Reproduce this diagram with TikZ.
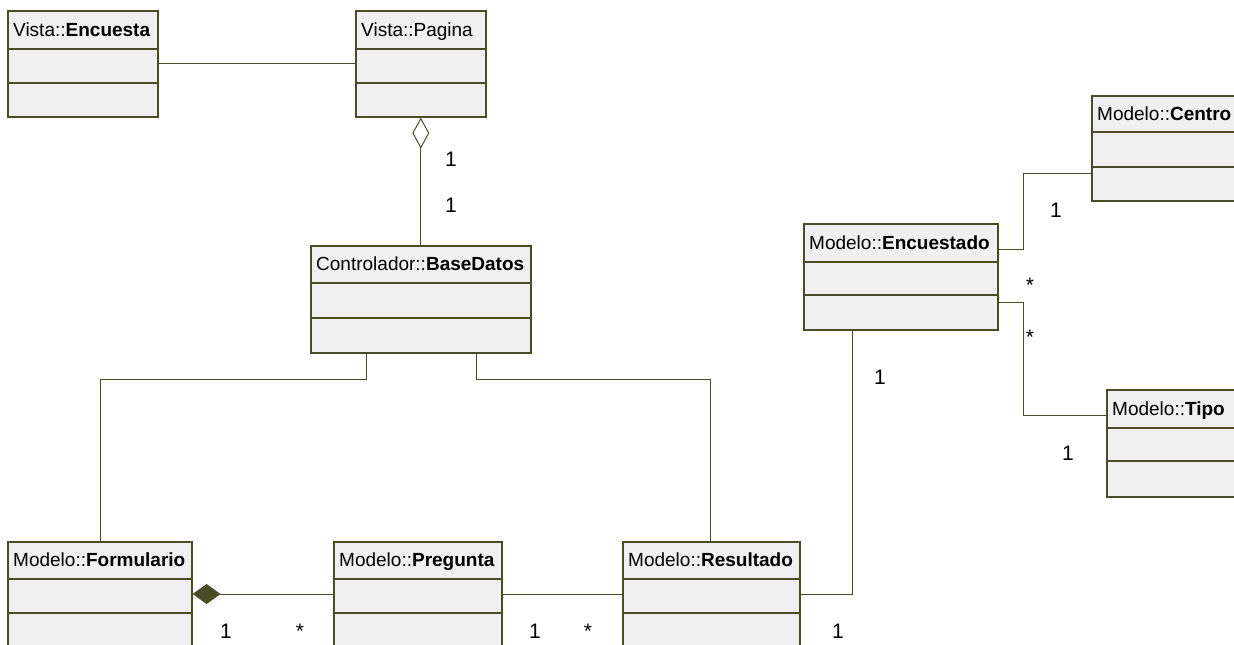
\documentclass[tikz,border=0pt]{standalone}
\usepackage{fontspec}
\setmainfont{Liberation Sans}
\usetikzlibrary{arrows.meta}

\definecolor{umlline}{RGB}{74,76,38}
\definecolor{umlfill}{RGB}{240,240,240}

\tikzset{
  classbox/.style={draw=umlline, fill=umlfill, line width=1.6pt, inner sep=0pt, rectangle},
  compart/.style={draw=umlline, line width=1.6pt},
  classtitle/.style={inner sep=0pt, anchor=base west, font=\fontsize{19}{21}\selectfont},
  assoc/.style={draw=umlline, line width=1pt},
  mult/.style={inner sep=0pt, anchor=base, font=\fontsize{21}{23}\selectfont},
}

% UML class: name, left, top, right, bottom, header height, middle height, title
\newcommand\umlclass[8]{%
  \node[classbox, minimum width={#4-#2}, minimum height={#5-#3}, anchor=north west] (#1) at (#2,#3) {};
  \draw[compart] ([yshift=-#6pt]#1.north west) -- ([yshift=-#6pt]#1.north east);
  \draw[compart] ([yshift=-#6pt-#7pt]#1.north west) -- ([yshift=-#6pt-#7pt]#1.north east);
  \node[classtitle] (#1-title) at ([xshift=6pt, yshift=-#6pt/2-6.5pt]#1.north west) {#8};
}

\begin{document}
\begin{tikzpicture}[x=1pt, y=-1pt]
  \useasboundingbox (0,0) rectangle (1234,645);
  \clip (0,0) rectangle (1234,645);

  % classes
  \umlclass{vencuesta}{7}{10}{157}{116}{39}{34}{Vista::\textbf{Encuesta}}
  \umlclass{pagina}{355}{10}{485}{116}{39}{34}{Vista::Pagina}
  \umlclass{basedatos}{310}{245}{530}{352}{38}{35}{Controlador::\textbf{BaseDatos}}
  \umlclass{formulario}{7}{541}{191}{660}{38}{34}{Modelo::\textbf{Formulario}}
  \umlclass{pregunta}{333}{541}{501}{660}{38}{34}{Modelo::\textbf{Pregunta}}
  \umlclass{resultado}{622}{541}{799}{660}{38}{34}{Modelo::\textbf{Resultado}}
  \umlclass{encuestado}{803}{223}{997}{329}{39}{33}{Modelo::\textbf{Encuestado}}
  \umlclass{centro}{1091}{95}{1250}{200}{37}{35}{Modelo::\textbf{Centro}}
  \umlclass{tipo}{1106}{389}{1250}{496}{39}{33}{Modelo::\textbf{Tipo}}

  % associations
  \draw[assoc] ([yshift=-53pt]vencuesta.north east) -- ([yshift=-53pt]pagina.north west);

  \draw[assoc, {Diamond[open, length=31pt, width=17pt, line width=1pt]}-] (pagina.south) -- (basedatos.north);

  \draw[assoc] ([xshift=56pt]basedatos.south west) -- ++(0,26) -| ([xshift=93pt]formulario.north west);
  \draw[assoc] ([xshift=166pt]basedatos.south west) -- ++(0,26) -| ([xshift=88pt]resultado.north west);

  \draw[assoc, {Diamond[fill=umlline, length=28pt, width=20pt]}-] ([yshift=-53pt]formulario.north east) -- ([yshift=-53pt]pregunta.north west);
  \draw[assoc] ([yshift=-53pt]pregunta.north east) -- ([yshift=-53pt]resultado.north west);

  \coordinate (resenc) at ([yshift=-53pt]resultado.north east);
  \draw[assoc] (resenc) -| ([xshift=49pt]encuestado.south west);

  \draw[assoc] ([yshift=-26pt]encuestado.north east) -- ++(25,0) |- ([yshift=-78pt]centro.north west);
  \draw[assoc] ([yshift=-79pt]encuestado.north east) -- ++(25,0) |- ([yshift=-26pt]tipo.north west);

  % multiplicities
  \node[mult] (m1) at (451,166) {1};
  \node[mult] (m2) at (451,212) {1};
  \node[mult] (m3) at (226,638) {1};
  \node[mult] (m4) at (300,638) {*};
  \node[mult] (m5) at (535,638) {1};
  \node[mult] (m6) at (588,638) {*};
  \node[mult] (m7) at (838,638) {1};
  \node[mult] (m8) at (880,384) {1};
  \node[mult] (m9) at (1056,217) {1};
  \node[mult] (m10) at (1030,292) {*};
  \node[mult] (m11) at (1030,344) {*};
  \node[mult] (m12) at (1068,460) {1};
\end{tikzpicture}
\end{document}
